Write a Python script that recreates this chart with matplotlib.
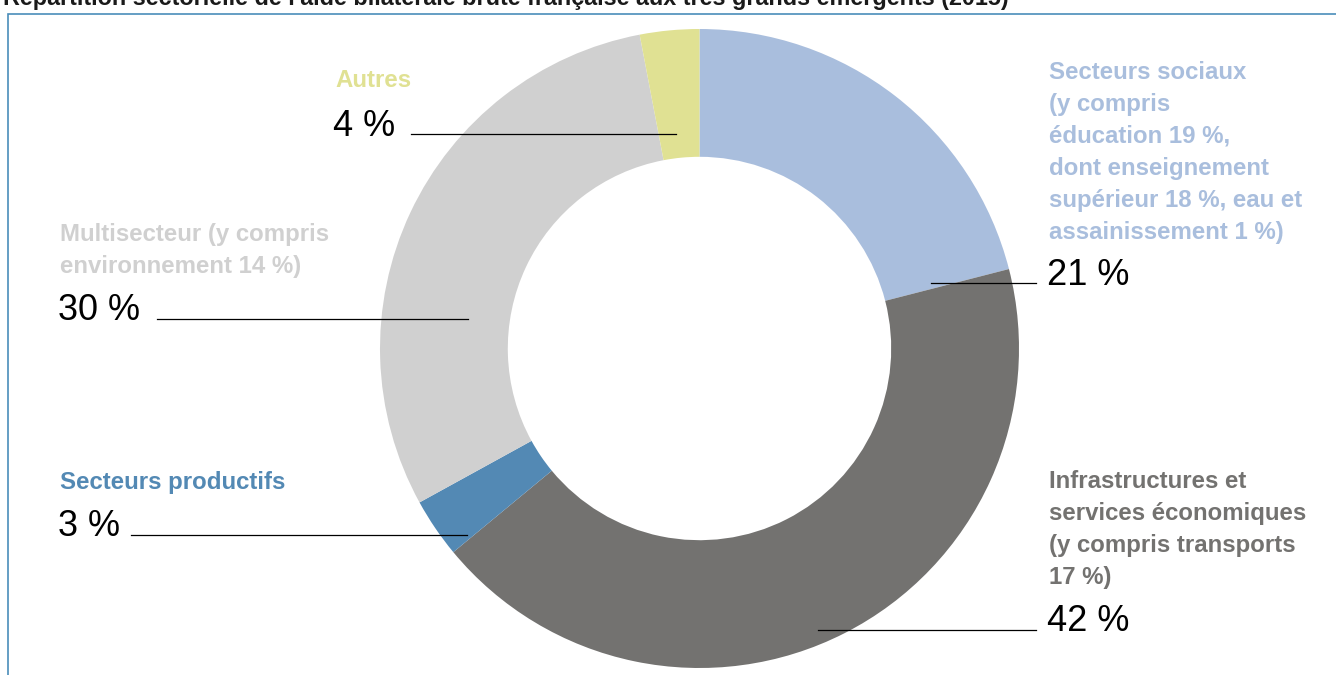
import matplotlib
matplotlib.use("Agg")
import matplotlib.pyplot as plt
from matplotlib.patches import Rectangle

# ---- data ----
categories = ["Secteurs sociaux", "Infrastructures et services économiques",
              "Secteurs productifs", "Multisecteur", "Autres"]
values = [21, 43, 3, 30, 3]
pct_labels = ["21 %", "42 %", "3 %", "30 %", "4 %"]
label_lines = [
    ["Secteurs sociaux", "(y compris", "éducation 19 %,", "dont enseignement",
     "supérieur 18 %, eau et", "assainissement 1 %)"],
    ["Infrastructures et", "services économiques", "(y compris transports", "17 %)"],
    ["Secteurs productifs"],
    ["Multisecteur (y compris", "environnement 14 %)"],
    ["Autres"],
]
colors = ["#A9BEDD", "#737270", "#5389B4", "#D0D0D0", "#E0E193"]
title = "Répartition sectorielle de l'aide bilatérale brute française aux très grands émergents (2015)"

LAB = ["Liberation Sans", "DejaVu Sans"]

W, H = 1336, 675
fig = plt.figure(figsize=(W / 100, H / 100), dpi=100)
ax = fig.add_axes([0, 0, 1, 1])

def Y(y):  # pixel (top-origin) -> data
    return H - y

cx, cy, R = 699.5, Y(348.5), 319.5
ax.pie(values, colors=colors, startangle=90, counterclock=False,
       center=(cx, cy), radius=R,
       wedgeprops=dict(width=R * 0.4, linewidth=0))
ax.set_xlim(0, W)
ax.set_ylim(0, H)
ax.set_aspect("auto")
ax.axis("off")

# frame
ax.add_patch(Rectangle((8, -50), W + 50, Y(14) + 50, fill=False,
                       edgecolor="#4A8DBA", linewidth=1.2, clip_on=False))

# title (cut at top)
ax.text(3, Y(5), title, fontsize=16.8, fontweight="bold", family=LAB,
        color="#1a1a1a", ha="left", va="baseline")

# (label x, first baseline y, pct baseline y, line x0, x1, line y)
specs = [
    (1049, 79, 285, 931, 1036, 283),
    (1049, 488, 631, 818, 1036, 630),
    (60, 489, 536, 131, 467, 535),
    (60, 241, 320, 157, 468, 319),
    (335, 87, 136, 411, 676, 134),
]
STEP = 32
for i, (lx, ly, py, x0, x1, yl) in enumerate(specs):
    for j, line in enumerate(label_lines[i]):
        ax.text(lx, Y(ly + j * STEP), line, fontsize=17.3, fontweight="bold",
                family=LAB, color=colors[i], ha="left", va="baseline")
    ax.text(lx - 2, Y(py), pct_labels[i], fontsize=26, family=LAB,
            color="black", ha="left", va="baseline")
    ax.plot([x0, x1], [Y(yl), Y(yl)], color="black", linewidth=0.9)

fig.savefig("out.png", dpi=100)
